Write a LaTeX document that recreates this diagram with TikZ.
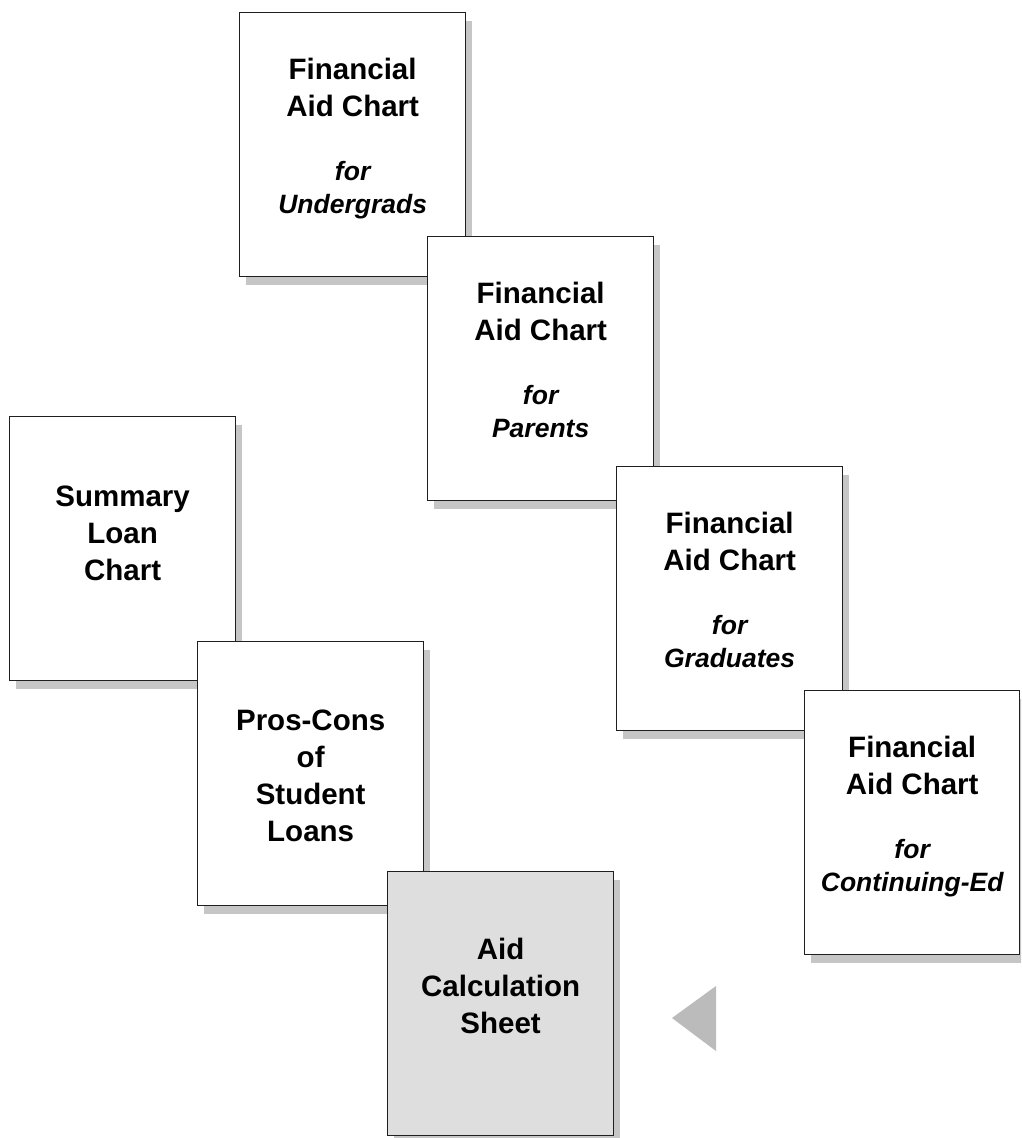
\documentclass[tikz,border=0pt]{standalone}
\usepackage{fontspec}
\setmainfont{Liberation Sans}
\usetikzlibrary{shadows}
\definecolor{shadowgray}{HTML}{C6C6C6}
\definecolor{calcgray}{HTML}{DEDEDE}
\definecolor{trigray}{HTML}{BBBBBB}
\newcommand{\subline}[1]{{\fontsize{26.5}{37}\selectfont\bfseries\itshape #1}}
\begin{document}
\begin{tikzpicture}[x=1pt,y=-1pt,
  card/.style={draw=black!88, line width=1.3pt, fill=white,
    minimum width=226pt, minimum height=264pt, anchor=north west, inner sep=0pt,
    drop shadow={shadow xshift=6pt, shadow yshift=-8pt, fill=shadowgray, opacity=1}},
  txt/.style={font=\fontsize{29.5}{37}\selectfont\bfseries, align=center, anchor=north, inner sep=0pt}
]
\useasboundingbox (0,0) rectangle (1021,1138);
\clip (0,0) rectangle (1021,1138);
\fill[white] (0,0) rectangle (1021,1138);

\node[card] (b1) at (239,12) {};
\node[txt] (t1) at ([yshift=-46pt]b1.north) {Financial\\Aid Chart\\[27pt]\subline{for}\\[-4pt]\subline{Undergrads}};

\node[card] (b2) at (427,236) {};
\node[txt] (t2) at ([yshift=-46pt]b2.north) {Financial\\Aid Chart\\[27pt]\subline{for}\\[-4pt]\subline{Parents}};

\node[card] (b3) at (616,466) {};
\node[txt] (t3) at ([yshift=-46pt]b3.north) {Financial\\Aid Chart\\[27pt]\subline{for}\\[-4pt]\subline{Graduates}};

\node[card, minimum width=215pt] (b4) at (804,690) {};
\node[txt] (t4) at ([yshift=-46pt]b4.north) {Financial\\Aid Chart\\[27pt]\subline{for}\\[-4pt]\subline{Continuing-Ed}};

\node[card] (b5) at (9,416) {};
\node[txt] (t5) at ([yshift=-70pt]b5.north) {Summary\\Loan\\Chart};

\node[card] (b6) at (197,641) {};
\node[txt] (t6) at ([yshift=-69pt]b6.north) {Pros-Cons\\of\\Student\\Loans};

\node[card, fill=calcgray] (b7) at (387,871) {};
\node[txt] (t7) at ([yshift=-67pt]b7.north) {Aid\\Calculation\\Sheet};

\fill[trigray] (672,1018) -- (716,986) -- (716,1051) -- cycle;
\end{tikzpicture}
\end{document}
